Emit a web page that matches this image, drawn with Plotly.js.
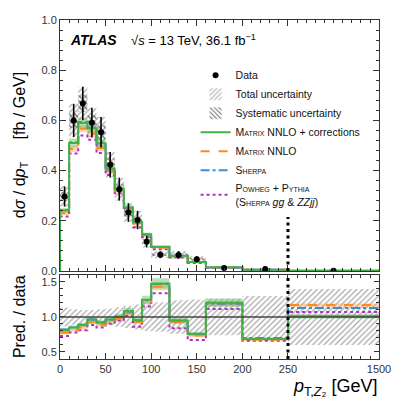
<!DOCTYPE html>
<html>
<head>
<meta charset="utf-8">
<script src="https://cdn.plot.ly/plotly-3.0.1.min.js"></script>
<style>
  body { margin: 0; background: #fff; }
  #plot { width: 399px; height: 399px; }
</style>
</head>
<body>
<div id="plot"></div>
<script>
// bin edges in GeV, last bin is the overflow 250-1500
var binEdges = [0, 10, 20, 30, 40, 50, 60, 70, 80, 90, 100, 120, 140, 160, 200, 250, 1500];

// measured cross section [fb/GeV] and relative uncertainties
var dataVals = [0.297, 0.600, 0.667, 0.591, 0.553, 0.423, 0.326, 0.233, 0.203, 0.117, 0.065, 0.064, 0.047, 0.012, 0.0075, 0.0006];
var totalUnc = [0.135, 0.11, 0.10, 0.10, 0.11, 0.12, 0.14, 0.16, 0.18, 0.20, 0.21, 0.24, 0.25, 0.26, 0.30, 0.40];
var systUnc  = [0.06, 0.05, 0.05, 0.05, 0.05, 0.06, 0.06, 0.07, 0.07, 0.08, 0.08, 0.09, 0.10, 0.10, 0.12, 0.15];

// predictions [fb/GeV]
var matrixCorr = [0.241, 0.510, 0.590, 0.570, 0.509, 0.408, 0.328, 0.253, 0.194, 0.146, 0.0962, 0.0608, 0.0356, 0.01446, 0.00515, 0.000606];
var matrixNNLO = [0.230, 0.486, 0.567, 0.547, 0.489, 0.3955, 0.318, 0.2447, 0.1888, 0.1422, 0.0930, 0.0595, 0.0345, 0.01428, 0.00506, 0.000702];
var sherpa     = [0.2435, 0.513, 0.5936, 0.5703, 0.5115, 0.4082, 0.326, 0.2505, 0.1929, 0.1451, 0.0956, 0.0608, 0.0357, 0.01428, 0.00525, 0.000678];
var powheg     = [0.2168, 0.468, 0.540, 0.523, 0.470, 0.3828, 0.3097, 0.2365, 0.1746, 0.1346, 0.0871, 0.0538, 0.0315, 0.01338, 0.00495, 0.000642];
var matrixCorrUnc = [0.04, 0.035, 0.035, 0.035, 0.035, 0.035, 0.04, 0.04, 0.04, 0.045, 0.05, 0.045, 0.04, 0.05, 0.03, 0.03];
var matrixNNLOUnc = [0.03, 0.025, 0.025, 0.025, 0.025, 0.025, 0.03, 0.03, 0.03, 0.03, 0.035, 0.03, 0.03, 0.03, 0.02, 0.02];

// x axis ticks (overflow bin squeezed into the last stretch)
var tickLabels = ['0', '50', '100', '150', '200', '250', '1500'];

var GREEN = '#45b045', ORANGE = '#ff8c1a', BLUE = '#3b8ed4', PURPLE = '#b030c0';
var FONT = 'Liberation Sans, Arial, Helvetica, sans-serif';

function disp(v) { return v <= 250 ? v : 250 + (v - 250) * 99.8 / 1250; }
var dEdges = binEdges.map(disp);
var centers = [], widths = [];
for (var i = 0; i < dataVals.length; i++) {
  centers.push((dEdges[i] + dEdges[i + 1]) / 2);
  widths.push(dEdges[i + 1] - dEdges[i]);
}
var tickVals = [0, 50, 100, 150, 200, 250, 1500].map(disp);

function stepTop(vals) {
  return { x: [dEdges[0]].concat(dEdges), y: [0].concat(vals, [vals[vals.length - 1]]) };
}
function stepRatio(vals) {
  return { x: dEdges.slice(), y: vals.concat([vals[vals.length - 1]]) };
}
function ratio(pred) { return pred.map((p, i) => p / dataVals[i]); }

function band(vals, unc, color, xa, ya) {
  return {
    type: 'bar', x: centers, width: widths,
    base: vals.map((v, i) => v * (1 - unc[i])),
    y: vals.map((v, i) => 2 * v * unc[i]),
    marker: { color: color, line: { width: 0 } },
    xaxis: xa, yaxis: ya, showlegend: false, hoverinfo: 'skip'
  };
}
function hatch(vals, unc, shape, fg, xa, ya, name, show, rank) {
  return {
    type: 'bar', x: centers, width: widths, name: name,
    base: vals.map((v, i) => v * (1 - unc[i])),
    y: vals.map((v, i) => 2 * v * unc[i]),
    marker: { color: 'rgba(255,255,255,0)', line: { width: 0 },
      pattern: { shape: shape, fgcolor: fg, bgcolor: 'rgba(255,255,255,0)', size: 4, solidity: 0.3 } },
    xaxis: xa, yaxis: ya, showlegend: show, legendrank: rank, hoverinfo: 'skip'
  };
}
function line(st, color, dash, name, xa, ya, show, rank) {
  return {
    type: 'scatter', mode: 'lines', x: st.x, y: st.y, name: name,
    line: { color: color, width: 2, dash: dash, shape: 'hv' },
    xaxis: xa, yaxis: ya, showlegend: show, legendrank: rank, hoverinfo: 'skip'
  };
}

var sc = function (t) { return "<span style='font-variant:small-caps'>" + t + "</span>"; };
var nameCorr = sc('Matrix') + ' NNLO + corrections';
var nameNNLO = sc('Matrix') + ' NNLO';
var nameSherpa = sc('Sherpa');
var namePowheg = sc('Powheg') + ' + ' + sc('Pythia') + '<br>(' + sc('Sherpa') + ' <i>gg</i> & <i>ZZjj</i>)';

var ones = dataVals.map(() => 1);

var traces = [
  // top panel
  hatch(dataVals, totalUnc, '/', '#a8a8a8', 'x', 'y', 'Total uncertainty', true, 2),
  hatch(dataVals, systUnc, '\\', '#666', 'x', 'y', 'Systematic uncertainty', true, 3),
  band(matrixNNLO, matrixNNLOUnc, 'rgba(255,160,80,0.45)', 'x', 'y'),
  band(matrixCorr, matrixCorrUnc, 'rgba(80,180,80,0.4)', 'x', 'y'),
  line(stepTop(powheg), PURPLE, 'dot', namePowheg, 'x', 'y', true, 7),
  line(stepTop(matrixNNLO), ORANGE, 'dash', nameNNLO, 'x', 'y', true, 5),
  line(stepTop(sherpa), BLUE, 'dashdot', nameSherpa, 'x', 'y', true, 6),
  line(stepTop(matrixCorr), GREEN, 'solid', nameCorr, 'x', 'y', true, 4),
  {
    type: 'scatter', mode: 'markers', x: centers, y: dataVals, name: 'Data',
    marker: { color: 'black', size: 6 },
    error_y: { type: 'data', array: dataVals.map((v, i) => v * totalUnc[i]), color: 'black', thickness: 1.6, width: 0 },
    xaxis: 'x', yaxis: 'y', legendrank: 1, hoverinfo: 'skip'
  },
  // ratio panel
  hatch(ones, totalUnc, '/', '#a8a8a8', 'x2', 'y2', 'Total uncertainty', false, 2),
  band(ratio(matrixNNLO), matrixNNLOUnc, 'rgba(255,160,80,0.45)', 'x2', 'y2'),
  band(ratio(matrixCorr), matrixCorrUnc, 'rgba(80,180,80,0.4)', 'x2', 'y2'),
  line(stepRatio(ratio(powheg)), PURPLE, 'dot', namePowheg, 'x2', 'y2', false, 7),
  line(stepRatio(ratio(matrixNNLO)), ORANGE, 'dash', nameNNLO, 'x2', 'y2', false, 5),
  line(stepRatio(ratio(sherpa)), BLUE, 'dashdot', nameSherpa, 'x2', 'y2', false, 6),
  line(stepRatio(ratio(matrixCorr)), GREEN, 'solid', nameCorr, 'x2', 'y2', false, 4)
];

var axisBase = {
  showgrid: false, zeroline: false, showline: true, linecolor: '#333', linewidth: 1,
  mirror: 'ticks', ticks: 'inside', ticklen: 6, tickcolor: '#333',
  tickfont: { family: FONT, size: 11, color: '#333' }
};
function ax(extra) { return Object.assign({}, axisBase, extra); }

var layout = {
  width: 399, height: 399,
  margin: { l: 60, r: 20, t: 20, b: 40 },
  paper_bgcolor: 'white', plot_bgcolor: 'white',
  barmode: 'overlay', showlegend: true,
  font: { family: FONT, color: '#111' },
  xaxis: ax({ domain: [0, 1], range: [0, 349.8], anchor: 'y', matches: 'x2',
    tickmode: 'array', tickvals: tickVals, ticktext: tickLabels, showticklabels: false,
    minor: { dtick: 10, tick0: 0, ticks: 'inside', ticklen: 3, tickcolor: '#333' } }),
  yaxis: ax({ domain: [0.2596, 1], range: [0, 1.0], anchor: 'x', dtick: 0.2, tickformat: '.1f',
    minor: { dtick: 0.04, ticks: 'inside', ticklen: 3, tickcolor: '#333' } }),
  xaxis2: ax({ domain: [0, 1], range: [0, 349.8], anchor: 'y2',
    tickmode: 'array', tickvals: tickVals, ticktext: tickLabels,
    minor: { dtick: 10, tick0: 0, ticks: 'inside', ticklen: 3, tickcolor: '#333' } }),
  yaxis2: ax({ domain: [0, 0.2478], range: [0.4, 1.6], anchor: 'x2',
    tickvals: [0.5, 1.0, 1.5], tickformat: '.1f', ticklen: 5,
    minor: { dtick: 0.1, ticks: 'inside', ticklen: 3, tickcolor: '#333' } }),
  legend: {
    x: 0.425, y: 0.88, xanchor: 'left', yanchor: 'top',
    bgcolor: 'rgba(0,0,0,0)', itemwidth: 30,
    font: { family: FONT, size: 10.5, color: '#111' }
  },
  shapes: [
    { type: 'line', xref: 'x2', yref: 'y2', x0: 0, x1: 349.8, y0: 1, y1: 1,
      line: { color: '#444', width: 1.5 } },
    { type: 'line', xref: 'x', yref: 'y', x0: 250, x1: 250, y0: 0, y1: 0.215,
      line: { color: 'black', width: 3, dash: '3px,3.5px' } },
    { type: 'line', xref: 'x2', yref: 'y2 domain', x0: 250, x1: 250, y0: 0, y1: 1,
      line: { color: 'black', width: 3, dash: '3px,3.5px' } }
  ],
  annotations: [
    { xref: 'paper', yref: 'paper', x: 0.025, y: 0.941, xanchor: 'left', yanchor: 'middle',
      showarrow: false, text: '<b><i>ATLAS</i></b>', font: { family: FONT, size: 14, color: '#000' } },
    { xref: 'paper', yref: 'paper', x: 0.215, y: 0.941, xanchor: 'left', yanchor: 'middle',
      showarrow: false, text: '√<i>s</i> = 13 TeV, 36.1 fb<sup>−1</sup>', font: { family: FONT, size: 13, color: '#000' } },
    { xref: 'paper', yref: 'paper', x: -0.125, y: 0.631, xanchor: 'center', yanchor: 'middle',
      textangle: -90, showarrow: false,
      text: 'd<i>σ</i> / d<i>p</i><sub>T</sub>\u00a0\u00a0\u00a0\u00a0\u00a0[fb / GeV]',
      font: { family: FONT, size: 16, color: '#000' } },
    { xref: 'paper', yref: 'paper', x: -0.125, y: 0.124, xanchor: 'center', yanchor: 'middle',
      textangle: -90, showarrow: false, text: 'Pred. / data',
      font: { family: FONT, size: 16, color: '#000' } },
    { xref: 'paper', yref: 'paper', x: 1, y: -0.085, xanchor: 'right', yanchor: 'middle',
      showarrow: false, text: '<i>p</i><sub>T,<i>Z</i>₂</sub> [GeV]',
      font: { family: FONT, size: 18, color: '#000' } }
  ]
};

Plotly.newPlot('plot', traces, layout, { displayModeBar: false, staticPlot: true });
</script>
</body>
</html>
